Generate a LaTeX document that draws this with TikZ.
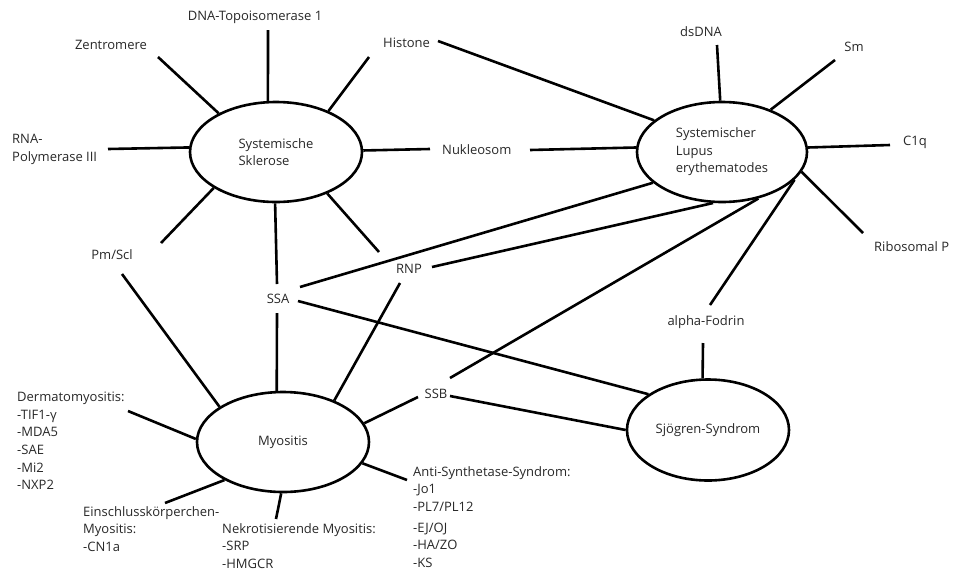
\documentclass[tikz,border=0pt]{standalone}
\usepackage{fontspec}
\setmainfont{Open Sans}
\usetikzlibrary{shapes.geometric}
\definecolor{txt}{RGB}{40,40,40}
\begin{document}
\begin{tikzpicture}[x=1pt,y=-1pt,
  every node/.style={font=\fontsize{13}{17.6}\selectfont, text=txt},
  dis/.style={ellipse, draw=black, line width=2.6pt, inner sep=0pt, align=left},
  lab/.style={inner sep=0pt, align=left},
  con/.style={draw=black, line width=2.6pt}]
\path[use as bounding box, fill=white] (0,0) rectangle (953,571);

% disease ellipses
\node[dis, minimum width=172pt, minimum height=100pt] (ssc) at (276,152) {Systemische\\Sklerose};
\node[dis, minimum width=170pt, minimum height=100pt] (sle) at (722,152) {Systemischer\\Lupus\\erythematodes};
\node[dis, minimum width=172pt, minimum height=100pt] (myo) at (283,442) {Myositis};
\node[dis, minimum width=162pt, minimum height=101pt] (sjo) at (708,430) {Sjögren-Syndrom};

% labels
\node[lab] (topo) at (255,17) {DNA-Topoisomerase 1};
\node[lab] (zen) at (111,45) {Zentromere};
\node[lab, anchor=west] (his) at (383,43) {Histone};
\node[lab, anchor=west] (rna) at (12,149.5) {RNA-\\Polymerase III};
\node[lab, anchor=west] (nuk) at (442,150) {Nukleosom};
\node[lab] (pm) at (112,255) {Pm/Scl};
\node[lab] (ssa) at (278,299) {SSA};
\node[lab] (rnp) at (409,269) {RNP};
\node[lab] (ds) at (701,32) {dsDNA};
\node[lab] (sm) at (854,47) {Sm};
\node[lab, anchor=west] (c1q) at (903,142) {C1q};
\node[lab, anchor=west] (rib) at (874,247) {Ribosomal P};
\node[lab] (fod) at (706,322) {alpha-Fodrin};
\node[lab] (ssb) at (436,394) {SSB};
\node[lab, anchor=north west] (derm) at (17,392) {Dermatomyositis:\\-TIF1-γ\\-MDA5\\-SAE\\-Mi2\\-NXP2};
\node[lab, anchor=north west] (ein) at (83,506) {Einschlusskörperchen-\\Myositis:\\-CN1a};
\node[lab, anchor=north west] (nek) at (222,523) {Nekrotisierende Myositis:\\-SRP\\-HMGCR};
\node[lab, anchor=north west] (anti) at (413,466) {Anti-Synthetase-Syndrom:\\-Jo1\\-PL7/PL12\\[3.5pt]-EJ/OJ\\-HA/ZO\\-KS};

% free ends of connectors
\coordinate (cZen) at (158,57);
\coordinate (cTopo) at (268,30);
\coordinate (cHis1) at (369,57);
\coordinate (cRna) at (108,149);
\coordinate (cNuk1) at (430,149);
\coordinate (cPm1) at (161,243);
\coordinate (cSsa1) at (277,284);
\coordinate (cRnp1) at (379,252);
\coordinate (cHis2) at (438,41);
\coordinate (cDs) at (717,45);
\coordinate (cSm) at (835,60);
\coordinate (cC1q) at (890,145);
\coordinate (cRib) at (863,233);
\coordinate (cNuk2) at (530,150);
\coordinate (cSsa2) at (300,287);
\coordinate (cRnp2) at (432,267);
\coordinate (cSsb2) at (450,378);
\coordinate (cFod2) at (710,305);
\coordinate (cPm3) at (122,274);
\coordinate (cSsa3) at (277,313);
\coordinate (cRnp3) at (400,283);
\coordinate (cSsb3) at (418,397);
\coordinate (cDerm) at (128,411);
\coordinate (cEin) at (165,503);
\coordinate (cNek) at (276,519);
\coordinate (cAnti) at (407,480);
\coordinate (cFod4) at (703,343);
\coordinate (cSsa4) at (298,301);
\coordinate (cSsb4) at (450,396);

% Systemische Sklerose
\draw[con] (ssc.146) -- (cZen);
\draw[con] (ssc.99) -- (cTopo);
\draw[con] (ssc.38) -- (cHis1);
\draw[con] (ssc.177) -- (cRna);
\draw[con] (ssc.1) -- (cNuk1);
\draw[con] (ssc.210) -- (cPm1);
\draw[con] (ssc.269) -- (cSsa1);
\draw[con] (ssc.321) -- (cRnp1);

% SLE
\draw[con] (sle.155) -- (cHis2);
\draw[con] (sle.92) -- (cDs);
\draw[con] (sle.41) -- (cSm);
\draw[con] (sle.3) -- (cC1q);
\draw[con] (sle.346) -- (cRib);
\draw[con] (sle.177) -- (cNuk2);
\draw[con] (sle.204) -- (cSsa2);
\draw[con] (sle.260) -- (cRnp2);
\draw[con] (sle.308) -- (cSsb2);
\draw[con] (sle.339) -- (cFod2);

% Myositis
\draw[con] (myo.151) -- (cPm3);
\draw[con] (myo.97) -- (cSsa3);
\draw[con] (myo.39) -- (cRnp3);
\draw[con] (myo.13) -- (cSsb3);
\draw[con] (myo.178) -- (cDerm);
\draw[con] (myo.213) -- (cEin);
\draw[con] (myo.268) -- (cNek);
\draw[con] (myo.345) -- (cAnti);

% Sjoegren
\draw[con] (sjo.96) -- (cFod4);
\draw[con] (sjo.149) -- (cSsa4);
\draw[con] (sjo.180) -- (cSsb4);
\end{tikzpicture}
\end{document}
